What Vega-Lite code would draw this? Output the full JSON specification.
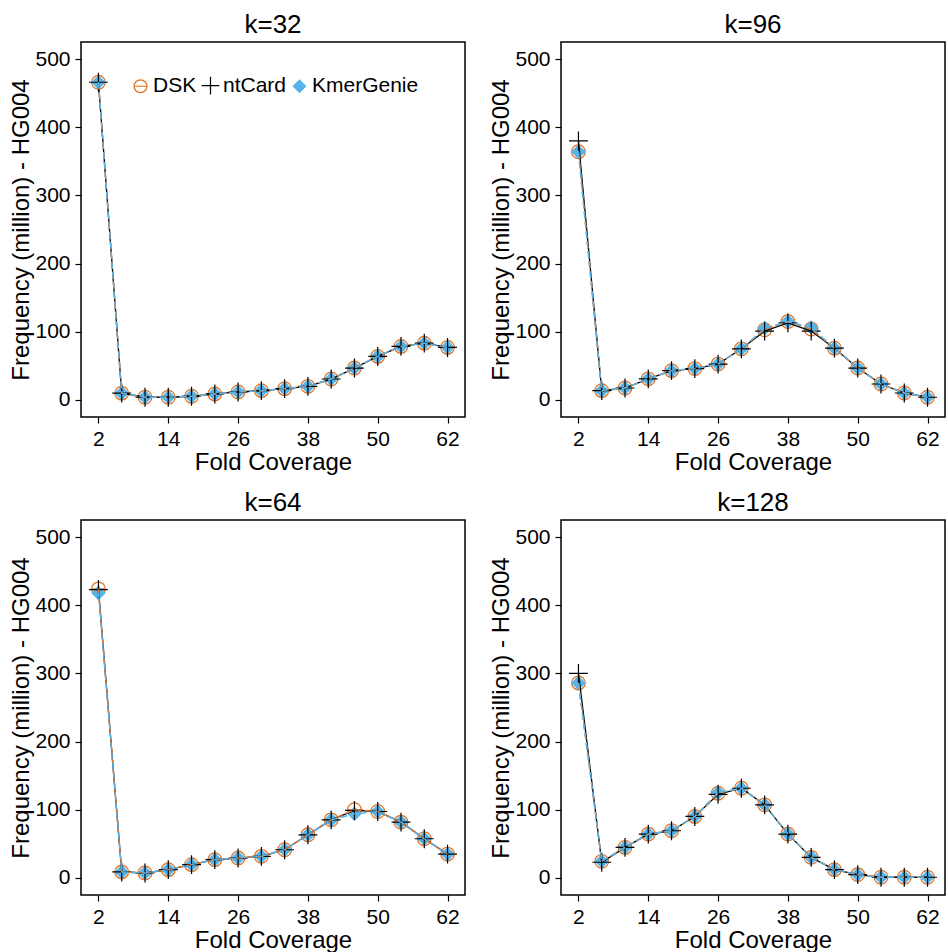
{
  "$schema": "https://vega.github.io/schema/vega-lite/v6.json",
  "padding": {"left": 9, "top": 11, "right": 0, "bottom": 0},
  "config": {
    "font": "Liberation Sans",
    "view": {"stroke": "black", "strokeWidth": 1.5},
    "axis": {
      "grid": false, "domain": false, "tickColor": "black", "tickSize": 6, "tickWidth": 1.2,
      "labelFontSize": 21, "labelColor": "black", "labelPadding": 5,
      "titleFontSize": 24, "titleFontWeight": "normal", "titleColor": "black", "titlePadding": 1
    },
    "header": {"labelFontSize": 26, "labelColor": "black"}
  },
  "data": {"values": [
    {"k":32,"x":2,"DSK":466,"ntCard":466,"KmerGenie":466},
    {"k":32,"x":6,"DSK":10,"ntCard":10,"KmerGenie":10},
    {"k":32,"x":10,"DSK":4,"ntCard":4,"KmerGenie":4},
    {"k":32,"x":14,"DSK":4,"ntCard":4,"KmerGenie":4},
    {"k":32,"x":18,"DSK":5.4,"ntCard":5.4,"KmerGenie":5.4},
    {"k":32,"x":22,"DSK":8.8,"ntCard":8.8,"KmerGenie":8.8},
    {"k":32,"x":26,"DSK":11.7,"ntCard":11.7,"KmerGenie":11.7},
    {"k":32,"x":30,"DSK":13.6,"ntCard":13.6,"KmerGenie":13.6},
    {"k":32,"x":34,"DSK":16.6,"ntCard":16.6,"KmerGenie":16.6},
    {"k":32,"x":38,"DSK":20,"ntCard":20,"KmerGenie":20},
    {"k":32,"x":42,"DSK":30.7,"ntCard":30.7,"KmerGenie":30.7},
    {"k":32,"x":46,"DSK":46.8,"ntCard":46.8,"KmerGenie":46.8},
    {"k":32,"x":50,"DSK":63.8,"ntCard":63.8,"KmerGenie":63.8},
    {"k":32,"x":54,"DSK":78.5,"ntCard":78.5,"KmerGenie":78.5},
    {"k":32,"x":58,"DSK":83.3,"ntCard":83.3,"KmerGenie":83.3},
    {"k":32,"x":62,"DSK":77,"ntCard":77,"KmerGenie":77},

    {"k":96,"x":2,"DSK":364,"ntCard":380,"KmerGenie":364},
    {"k":96,"x":6,"DSK":13.6,"ntCard":13.6,"KmerGenie":13.6},
    {"k":96,"x":10,"DSK":17.5,"ntCard":17.5,"KmerGenie":17.5},
    {"k":96,"x":14,"DSK":31,"ntCard":31,"KmerGenie":31},
    {"k":96,"x":18,"DSK":43,"ntCard":43,"KmerGenie":43},
    {"k":96,"x":22,"DSK":46,"ntCard":46,"KmerGenie":46},
    {"k":96,"x":26,"DSK":52.6,"ntCard":52.6,"KmerGenie":52.6},
    {"k":96,"x":30,"DSK":75,"ntCard":75,"KmerGenie":75},
    {"k":96,"x":34,"DSK":103,"ntCard":101,"KmerGenie":105},
    {"k":96,"x":38,"DSK":115,"ntCard":113,"KmerGenie":115},
    {"k":96,"x":42,"DSK":104,"ntCard":101,"KmerGenie":106},
    {"k":96,"x":46,"DSK":76,"ntCard":76,"KmerGenie":76},
    {"k":96,"x":50,"DSK":46.8,"ntCard":46.8,"KmerGenie":46.8},
    {"k":96,"x":54,"DSK":23.4,"ntCard":23.4,"KmerGenie":23.4},
    {"k":96,"x":58,"DSK":10.2,"ntCard":10.2,"KmerGenie":10.2},
    {"k":96,"x":62,"DSK":4,"ntCard":4,"KmerGenie":4},

    {"k":64,"x":2,"DSK":424,"ntCard":423,"KmerGenie":418},
    {"k":64,"x":6,"DSK":8.8,"ntCard":8.8,"KmerGenie":8.8},
    {"k":64,"x":10,"DSK":7.3,"ntCard":7.3,"KmerGenie":7.3},
    {"k":64,"x":14,"DSK":12.2,"ntCard":12.2,"KmerGenie":12.2},
    {"k":64,"x":18,"DSK":19.5,"ntCard":19.5,"KmerGenie":19.5},
    {"k":64,"x":22,"DSK":26.8,"ntCard":26.8,"KmerGenie":26.8},
    {"k":64,"x":26,"DSK":29.2,"ntCard":29.2,"KmerGenie":29.2},
    {"k":64,"x":30,"DSK":31.7,"ntCard":31.7,"KmerGenie":31.7},
    {"k":64,"x":34,"DSK":41.4,"ntCard":41.4,"KmerGenie":41.4},
    {"k":64,"x":38,"DSK":63.3,"ntCard":63.3,"KmerGenie":63.3},
    {"k":64,"x":42,"DSK":85.2,"ntCard":85.2,"KmerGenie":85.2},
    {"k":64,"x":46,"DSK":100,"ntCard":99,"KmerGenie":94},
    {"k":64,"x":50,"DSK":97.5,"ntCard":97.5,"KmerGenie":97.5},
    {"k":64,"x":54,"DSK":81.9,"ntCard":81.9,"KmerGenie":81.9},
    {"k":64,"x":58,"DSK":57.5,"ntCard":57.5,"KmerGenie":57.5},
    {"k":64,"x":62,"DSK":35,"ntCard":35,"KmerGenie":35},

    {"k":128,"x":2,"DSK":286,"ntCard":300,"KmerGenie":286},
    {"k":128,"x":6,"DSK":24.4,"ntCard":23,"KmerGenie":24.4},
    {"k":128,"x":10,"DSK":44.8,"ntCard":44.8,"KmerGenie":44.8},
    {"k":128,"x":14,"DSK":64.3,"ntCard":64.3,"KmerGenie":64.3},
    {"k":128,"x":18,"DSK":69.2,"ntCard":69.2,"KmerGenie":69.2},
    {"k":128,"x":22,"DSK":90.2,"ntCard":90.2,"KmerGenie":90.2},
    {"k":128,"x":26,"DSK":124.3,"ntCard":122.7,"KmerGenie":125},
    {"k":128,"x":30,"DSK":131.6,"ntCard":131.6,"KmerGenie":131.6},
    {"k":128,"x":34,"DSK":107.2,"ntCard":107.2,"KmerGenie":107.2},
    {"k":128,"x":38,"DSK":64.3,"ntCard":64.3,"KmerGenie":64.3},
    {"k":128,"x":42,"DSK":30.2,"ntCard":30.2,"KmerGenie":30.2},
    {"k":128,"x":46,"DSK":12.2,"ntCard":12.2,"KmerGenie":12.2},
    {"k":128,"x":50,"DSK":4.9,"ntCard":4.9,"KmerGenie":4.9},
    {"k":128,"x":54,"DSK":1,"ntCard":1,"KmerGenie":1},
    {"k":128,"x":58,"DSK":1,"ntCard":1,"KmerGenie":1},
    {"k":128,"x":62,"DSK":1,"ntCard":1,"KmerGenie":1}
  ]},
  "transform": [{"fold": ["DSK", "KmerGenie", "ntCard"], "as": ["tool", "freq"]}],
  "facet": {
    "field": "k", "type": "ordinal", "sort": [32, 96, 64, 128],
    "header": {"title": null, "labelExpr": "'k=' + datum.value", "labelPadding": 4}
  },
  "columns": 2,
  "spacing": {"column": 23, "row": 14},
  "resolve": {"axis": {"x": "independent", "y": "independent"}},
  "spec": {
    "width": 384,
    "height": 375,
    "encoding": {
      "x": {"field": "x", "type": "quantitative", "title": "Fold Coverage",
            "scale": {"domain": [-1, 65], "nice": false, "zero": false},
            "axis": {"values": [2, 14, 26, 38, 50, 62]}},
      "y": {"field": "freq", "type": "quantitative", "title": "Frequency (million) - HG004",
            "scale": {"domain": [-25, 525], "nice": false, "zero": false},
            "axis": {"values": [0, 100, 200, 300, 400, 500]}}
    },
    "layer": [
      {
        "mark": {"type": "point", "strokeWidth": 1.2, "opacity": 1, "size": 169},
        "encoding": {
          "shape": {"field": "tool", "type": "nominal",
                    "scale": {"domain": ["DSK", "ntCard", "KmerGenie"],
                              "range": ["M-1.05,0A1.05,1.05 0 1,1 1.05,0A1.05,1.05 0 1,1 -1.05,0M-1.05,0L1.05,0",
                                        "M-1.45,0L1.45,0M0,-1.45L0,1.45",
                                        "M-1,0L0,-1L1,0L0,1Z"]},
                    "legend": {"orient": "none", "legendX": 49, "legendY": 33, "direction": "horizontal",
                               "title": null, "labelFontSize": 21, "labelColor": "black",
                               "columnPadding": 2, "labelOffset": 2, "symbolStrokeWidth": 1.2, "symbolSize": 150}},
          "stroke": {"field": "tool", "type": "nominal",
                     "scale": {"domain": ["DSK", "ntCard", "KmerGenie"], "range": ["#E2701E", "#000000", "#56B4E9"]}},
          "fill": {"field": "tool", "type": "nominal",
                   "scale": {"domain": ["DSK", "ntCard", "KmerGenie"], "range": ["transparent", "transparent", "#56B4E9"]}}
        }
      },
      {
        "transform": [{"filter": "datum.tool === 'ntCard'"}],
        "mark": {"type": "line", "strokeWidth": 1.3},
        "encoding": {
          "stroke": {"field": "tool", "type": "nominal", "legend": null}
        }
      },
      {
        "transform": [{"filter": "datum.tool !== 'ntCard'"}],
        "mark": {"type": "line", "strokeWidth": 1.4, "strokeDash": [7, 3]},
        "encoding": {
          "stroke": {"field": "tool", "type": "nominal", "legend": null}
        }
      }
    ]
  }
}
